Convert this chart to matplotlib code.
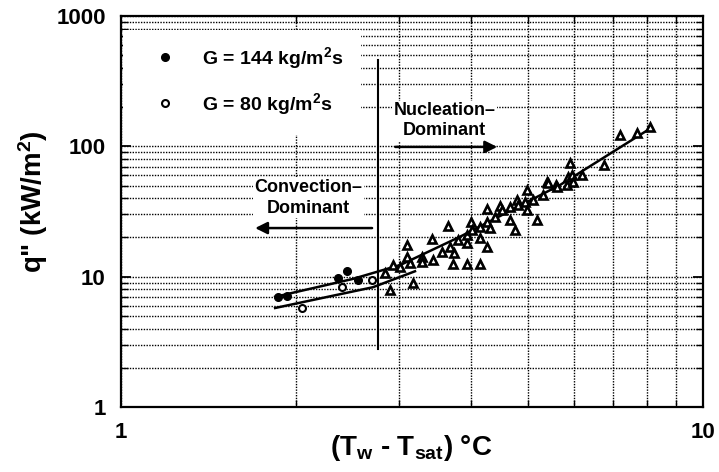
import matplotlib
matplotlib.use("Agg")
import matplotlib.pyplot as plt
from matplotlib.lines import Line2D
from matplotlib.patches import Rectangle
from matplotlib.ticker import NullFormatter

plt.rcParams['font.family'] = ['Liberation Sans', 'DejaVu Sans']
plt.rcParams['font.weight'] = 'bold'
plt.rcParams['mathtext.fontset'] = 'custom'
plt.rcParams['mathtext.rm'] = 'Liberation Sans:bold'
plt.rcParams['mathtext.it'] = 'Liberation Sans:bold'
plt.rcParams['mathtext.bf'] = 'Liberation Sans:bold'

# ---- data ----
g144_x = [1.86, 1.93, 2.36, 2.45, 2.55]
g144_y = [7.0, 7.1, 9.8, 11.1, 9.4]

g80_x = [2.05, 2.40, 2.70]
g80_y = [5.75, 8.3, 9.4]

tri_x = [2.84, 2.90, 2.93, 3.02, 3.10, 3.10, 3.14, 3.17, 3.29, 3.29, 3.42, 3.44,
         3.56, 3.65, 3.67, 3.72, 3.74, 3.79, 3.93, 3.93, 3.93, 4.00, 4.01, 4.14,
         4.14, 4.14, 4.26, 4.26, 4.26, 4.30, 4.39, 4.48, 4.51, 4.66, 4.66, 4.75,
         4.80, 4.81, 4.94, 4.98, 4.98, 5.10, 5.18, 5.31, 5.39, 5.42, 5.60, 5.61,
         5.84, 5.87, 5.90, 5.96, 5.98, 6.20, 6.77, 7.20, 7.70, 8.10]
tri_y = [10.7, 7.9, 12.3, 11.9, 17.5, 14.2, 12.7, 8.95, 14.2, 13.0, 19.5, 13.4,
         15.5, 24.5, 16.9, 12.5, 15.2, 19.1, 12.5, 18.1, 20.9, 26.3, 22.8, 12.5,
         19.8, 24.1, 16.9, 33.0, 26.3, 23.7, 28.7, 34.7, 32.5, 27.2, 34.3, 22.9,
         38.8, 35.5, 37.4, 46.3, 32.4, 38.8, 27.2, 42.4, 53.4, 52.4, 50.6, 48.8,
         50.6, 58.0, 74.5, 60.0, 53.3, 60.0, 72.0, 122.0, 126.0, 141.0]

fit1_x = [1.84, 2.5, 3.02, 3.82, 5.68, 8.03]
fit1_y = [7.0, 9.6, 12.3, 20.2, 50.5, 133.0]
fit2_x = [1.84, 2.71, 3.2]
fit2_y = [5.75, 8.3, 11.0]

divider_x = 2.76
divider_y = [2.8, 460.0]

x_ticks = [1, 10]
x_tick_labels = ['1', '10']
y_ticks = [1, 10, 100, 1000]
y_tick_labels = ['1', '10', '100', '1000']

# ---- figure ----
fig = plt.figure(figsize=(7.19, 4.72), dpi=100)
ax = fig.add_axes([121/719, 1-407/472, 582/719, 391/472])
ax.set_xscale('log')
ax.set_yscale('log')
ax.set_xlim(1, 10)
ax.set_ylim(1, 1000)

ax.grid(True, which='both', color='black', linestyle=(0, (1, 1)), linewidth=1.0)
ax.set_axisbelow(True)

# blank legend area (no grid behind)
ax.add_patch(Rectangle((0.003, 0.695), 0.41, 0.27, transform=ax.transAxes,
                       facecolor='white', edgecolor='none', zorder=1.5))

ax.plot(fit1_x, fit1_y, color='black', lw=1.8, zorder=3)
ax.plot(fit2_x, fit2_y, color='black', lw=1.8, zorder=3)

ax.plot(tri_x, tri_y, linestyle='none', marker='^', markersize=5.5,
        markerfacecolor='white', markeredgecolor='black', markeredgewidth=1.9, zorder=4)
ax.plot(g144_x, g144_y, linestyle='none', marker='o', markersize=5.5,
        color='black', zorder=5)
ax.plot(g80_x, g80_y, linestyle='none', marker='o', markersize=5,
        markerfacecolor='white', markeredgecolor='black', markeredgewidth=1.5, zorder=5)

ax.plot([divider_x, divider_x], divider_y, color='black', lw=1.5, zorder=3)

# annotations
ax.text(3.6, 157, 'Nucleation\u2013\nDominant', ha='center', va='center',
        fontsize=13, fontweight='bold', linespacing=1.25, zorder=6,
        bbox=dict(facecolor='white', edgecolor='none', pad=1))
ax.annotate('', xy=(4.43, 99), xytext=(2.96, 99),
            arrowprops=dict(arrowstyle='-|>', color='black', lw=1.8,
                            mutation_scale=18, shrinkA=0, shrinkB=0), zorder=6)
ax.text(2.10, 40.2, 'Convection\u2013\nDominant', ha='center', va='center',
        fontsize=13, fontweight='bold', linespacing=1.25, zorder=6,
        bbox=dict(facecolor='white', edgecolor='none', pad=1))
ax.annotate('', xy=(1.70, 23.6), xytext=(2.70, 23.6),
            arrowprops=dict(arrowstyle='-|>', color='black', lw=1.8,
                            mutation_scale=18, shrinkA=0, shrinkB=0), zorder=6)

handles = [Line2D([], [], linestyle='none', marker='o', markersize=5.5, color='black'),
           Line2D([], [], linestyle='none', marker='o', markersize=5,
                  markerfacecolor='white', markeredgecolor='black', markeredgewidth=1.5)]
leg = ax.legend(handles, ['G = 144 kg/m$^2$s', 'G = 80 kg/m$^2$s'],
                loc='upper left', bbox_to_anchor=(0.045, 0.945), frameon=False,
                fontsize=14, handlelength=1.0, handletextpad=1.4, labelspacing=1.0,
                borderaxespad=0)

ax.set_xticks(x_ticks)
ax.set_xticklabels(x_tick_labels)
ax.set_yticks(y_ticks)
ax.set_yticklabels(y_tick_labels)
ax.xaxis.set_minor_formatter(NullFormatter())
ax.yaxis.set_minor_formatter(NullFormatter())
ax.tick_params(which='both', direction='in', top=True, right=True)
ax.tick_params(which='major', length=7, width=1.3, labelsize=16, pad=11)
ax.tick_params(which='minor', length=5, width=1.0)
for lbl in ax.get_xticklabels() + ax.get_yticklabels():
    lbl.set_fontweight('bold')
for s in ax.spines.values():
    s.set_linewidth(1.6)

fig.text(33/719, 1-202/472, 'q" (kW/m$^2$)', rotation=90, ha='center', va='center',
         fontsize=20, fontweight='bold')
fig.text(411/719, 1-448/472, '(T$_{w}$ - T$_{sat}$) \u00b0C', ha='center', va='center',
         fontsize=20, fontweight='bold')

fig.savefig('out.png', dpi=100)
